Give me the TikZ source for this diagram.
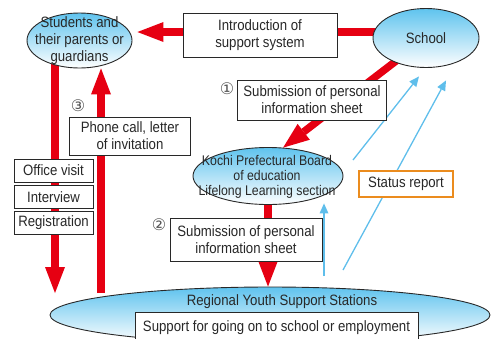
\documentclass[tikz,border=0pt]{standalone}
\usepackage{fontspec}
\setmainfont{Liberation Sans}[FakeStretch=0.88]
\newfontfamily\circfont{DejaVu Sans}
\usetikzlibrary{arrows.meta,shapes.geometric}
\definecolor{arrowred}{RGB}{230,0,18}
\definecolor{skyblue}{RGB}{95,195,238}
\definecolor{reportblue}{RGB}{95,190,235}
\definecolor{reportorange}{RGB}{235,140,30}
\definecolor{inkgray}{RGB}{40,40,40}
\pgfdeclarelayer{bg}
\pgfsetlayers{bg,main}
\tikzset{
  every node/.style={font=\fontsize{15}{17}\selectfont, text=inkgray},
  blob/.style={ellipse, draw=inkgray, line width=0.9pt, top color=skyblue, bottom color=white, inner sep=0pt},
  box/.style={draw=inkgray, line width=0.9pt, fill=white, align=center, inner sep=0pt},
  txt/.style={align=center, inner sep=0pt},
  circnum/.style={font=\circfont\fontsize{16}{16}\selectfont, text=inkgray!80, inner sep=0pt},
  redarrow/.style={draw=arrowred, line width=7.5pt, -{Triangle[length=26pt,width=20pt,line width=0pt]}},
  bluearrow/.style={draw=reportblue, line width=1.3pt, -{Triangle[length=10pt,width=9pt,line width=0pt]}}
}
\begin{document}
\begin{tikzpicture}[x=1pt,y=-1pt]
\useasboundingbox (0,0) rectangle (492,338);
%
\node[blob, minimum width=105pt, minimum height=55pt] (students) at (79.5,40.5) {};
\node[blob, minimum width=106pt, minimum height=59pt] (school) at (426,38) {};
\node[blob, minimum width=150pt, minimum height=57pt] (kochi) at (268,176) {};
\node[blob, minimum width=440pt, minimum height=56pt] (stations) at (270,315) {};
%
\coordinate (visitend) at (55,293);
\coordinate (callstart) at (101,293);
\coordinate (reportA) at (324,276);
\coordinate (reportB) at (353,160);
\coordinate (reportC) at (343,270);
%
\begin{pgfonlayer}{bg}
\draw[redarrow, shorten >=5pt] ([yshift=6pt]school.center) -- ([yshift=6pt]school.center -| students.east);
\draw[redarrow] (school.center) -- (kochi.62);
\draw[redarrow] (kochi.center) -- (kochi.center |- stations.north);
\draw[redarrow] (students.center -| visitend) -- (visitend);
\draw[redarrow] (callstart) -- (callstart |- students.south);
\draw[bluearrow, shorten >=-1.5pt] (reportA) -- (reportA |- kochi.south);
\draw[bluearrow] (reportB) -- ([shift={(-7pt,-8.5pt)}]school.south);
\draw[bluearrow] (reportC) -- ([shift={(20pt,-12.5pt)}]school.south);
\end{pgfonlayer}
%
\node[txt] (studentstext) at (students) {Students and\\their parents or\\guardians};
\node[txt] (schooltext) at (school) {School};
\node[txt, font=\fontsize{14}{15}\selectfont] (kochitext) at (267,177) {Kochi Prefectural Board\\of education\\Lifelong Learning section};
\node[txt] (stationstext) at (282,302) {Regional Youth Support Stations};
%
\node[box, minimum width=154pt, minimum height=44pt] (intro) at (260,35) {Introduction of\\support system};
\node[box, minimum width=149pt, minimum height=40pt] (sheetA) at (312,100) {Submission of personal\\information sheet};
\node[box, minimum width=152pt, minimum height=43pt] (sheetB) at (246,239.5) {Submission of personal\\information sheet};
\node[box, minimum width=121pt, minimum height=38pt] (call) at (130,136) {Phone call, letter\\of invitation};
\node[box, minimum width=79pt, minimum height=23pt] (visit) at (53.5,170.5) {Office visit};
\node[box, minimum width=79pt, minimum height=23pt] (interview) at (53.5,197) {Interview};
\node[box, minimum width=79pt, minimum height=23pt] (registration) at (53.5,223) {Registration};
\node[box, draw=reportorange, line width=1.2pt, minimum width=94pt, minimum height=26pt] (report) at (406,184) {Status report};
\node[box, minimum width=283pt, minimum height=30pt, anchor=north] (support) at (276.5,312) {Support for going on to school or employment};
%
\node[circnum] (stepone) at (227,89) {①};
\node[circnum] (steptwo) at (159,225) {②};
\node[circnum] (stepthree) at (78,106) {③};
\end{tikzpicture}
\end{document}
